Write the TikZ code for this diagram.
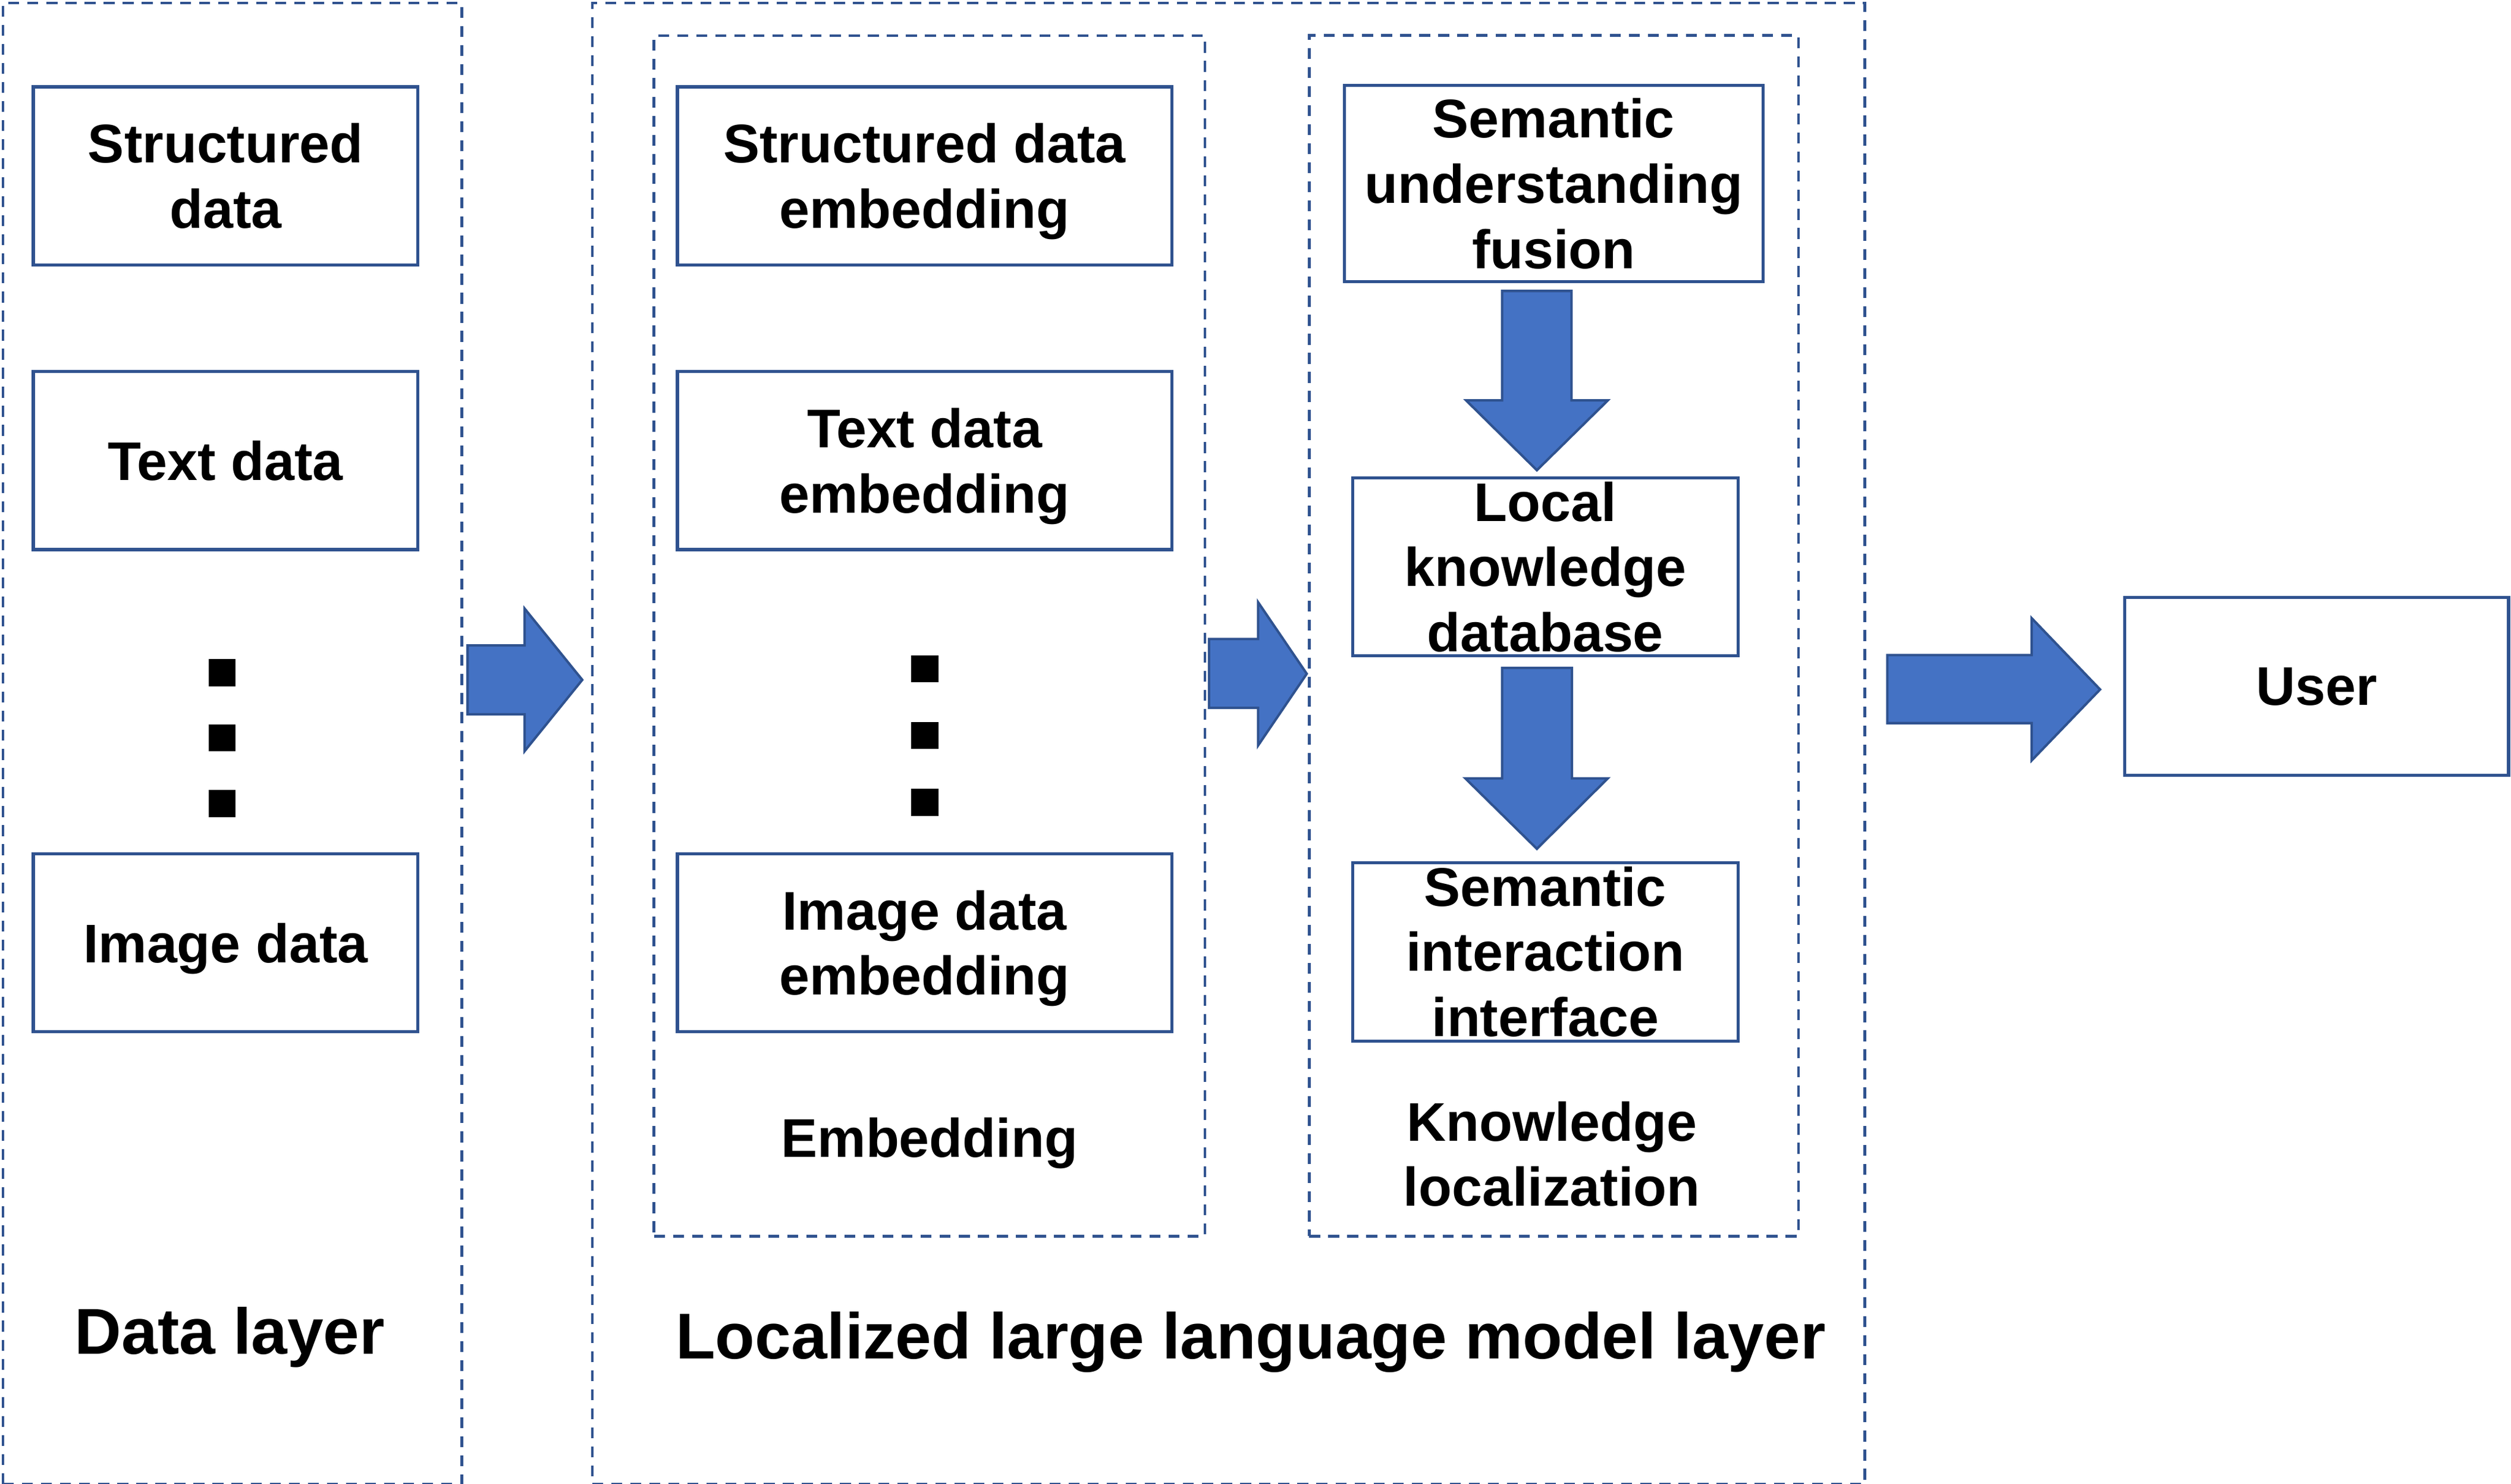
\documentclass[tikz,border=0pt]{standalone}
\usepackage{fontspec}
\setmainfont{Liberation Sans}
\definecolor{edgeblue}{HTML}{2F528F}
\definecolor{arrowfill}{HTML}{4472C4}
\newcommand\nodesc[1]{\raisebox{0pt}[\height][0pt]{#1}}
\tikzset{
  sbox/.style={draw=edgeblue, line width=1.9pt, inner sep=0pt},
  dbox/.style={draw=edgeblue, line width=1.7pt, dash pattern=on 6.8pt off 5.1pt, inner sep=0pt, anchor=north west},
  lab/.style={font=\bfseries\fontsize{34}{40.7}\selectfont, align=center, inner sep=0pt},
  bigtext/.style={font=\bfseries\fontsize{40.5}{48}\selectfont, inner sep=0pt, anchor=base},
  sqdot/.style={fill=black, minimum size=17pt, inner sep=0pt},
  barrow/.style={fill=arrowfill, draw=edgeblue, line width=1.5pt, line join=miter},
}
\begin{document}
\begin{tikzpicture}[x=1pt,y=-1pt]
\useasboundingbox (0,0) rectangle (1568,926.6);

% dashed containers
\node[dbox, minimum width=286.5pt, minimum height=924.7pt] (datalayer) at (1,1) {};
\node[dbox, minimum width=794.6pt, minimum height=924.7pt] (llmlayer) at (369,1) {};
\node[dbox, minimum width=344pt, minimum height=749.5pt] (embed) at (407.5,21.5) {};
\node[dbox, minimum width=305.5pt, minimum height=749.7pt] (know) at (816.7,21.3) {};

% data layer boxes
\node[sbox, minimum width=240.2pt, minimum height=111.1pt] (sd) at (140.9,109.75) {};
\node[sbox, minimum width=240.2pt, minimum height=111.1pt] (td) at (140.9,287.6) {};
\node[sbox, minimum width=240.2pt, minimum height=111.1pt] (imd) at (140.9,588.6) {};
\node[lab] (sdt) at (sd) {Structured\\data};
\node[lab] (tdt) at (td) {Text data};
\node[lab] (imdt) at (imd) {\nodesc{Image data}};
\node[sqdot] (da1) at (138.7,420) {};
\node[sqdot] (da2) at (138.7,460.7) {};
\node[sqdot] (da3) at (138.7,501.7) {};
\node[bigtext] (dlt) at (143.5,845.5) {\nodesc{Data layer}};

% embedding boxes
\node[sbox, minimum width=308.7pt, minimum height=111.1pt] (se) at (577.35,109.75) {};
\node[sbox, minimum width=308.7pt, minimum height=111.1pt] (te) at (577.35,287.6) {};
\node[sbox, minimum width=308.7pt, minimum height=111.1pt] (ie) at (577.35,588.6) {};
\node[lab] (set) at (se) {Structured data\\\nodesc{embedding}};
\node[lab] (tet) at (te) {Text data\\\nodesc{embedding}};
\node[lab] (iet) at (ie) {Image data\\\nodesc{embedding}};
\node[sqdot] (de1) at (577.4,417.6) {};
\node[sqdot] (de2) at (577.4,459.2) {};
\node[sqdot] (de3) at (577.4,501) {};
\node[bigtext, font=\bfseries\fontsize{34}{40.7}\selectfont] (embt) at (580.4,722.4) {Embedding};

% knowledge localization boxes
\node[sbox, minimum width=261.6pt, minimum height=122.7pt] (fus) at (970.2,114.65) {};
\node[sbox, minimum width=240.5pt, minimum height=110.9pt] (loc) at (965,354) {};
\node[sbox, minimum width=240.5pt, minimum height=111.5pt] (sii) at (965,594.3) {};
\node[lab] (fust) at (fus) {Semantic\\understanding\\fusion};
\node[lab] (loct) at (loc) {Local\\knowledge\\database};
\node[lab] (siit) at (sii) {Semantic\\interaction\\interface};
\node[lab] (klt) at (969,720.6) {Knowledge\\localization};

\node[bigtext] (llmt) at (781,848.6) {\nodesc{Localized large language model layer}};

% user
\node[sbox, minimum width=239.8pt, minimum height=111.3pt] (user) at (1446.6,428.6) {};
\node[lab] (usert) at (user) {User};

% block arrows
\draw[barrow] (292,403) -- (327.6,403) -- (327.6,380) -- (363.6,424.5) -- (327.6,469) -- (327.6,446) -- (292,446) -- cycle;
\draw[barrow] (755,399) -- (785.6,399) -- (785.6,376) -- (816,420.7) -- (785.6,465.5) -- (785.6,442) -- (755,442) -- cycle;
\draw[barrow] (1178.5,409) -- (1268.7,409) -- (1268.7,386) -- (1311.4,430.5) -- (1268.7,474.8) -- (1268.7,451.5) -- (1178.5,451.5) -- cycle;
\draw[barrow] (938,181.7) -- (981.3,181.7) -- (981.3,250) -- (1004,250) -- (959.7,293.6) -- (915.5,250) -- (938,250) -- cycle;
\draw[barrow] (938,417) -- (981.6,417) -- (981.6,486) -- (1004,486) -- (959.7,530) -- (915,486) -- (938,486) -- cycle;
\end{tikzpicture}
\end{document}
